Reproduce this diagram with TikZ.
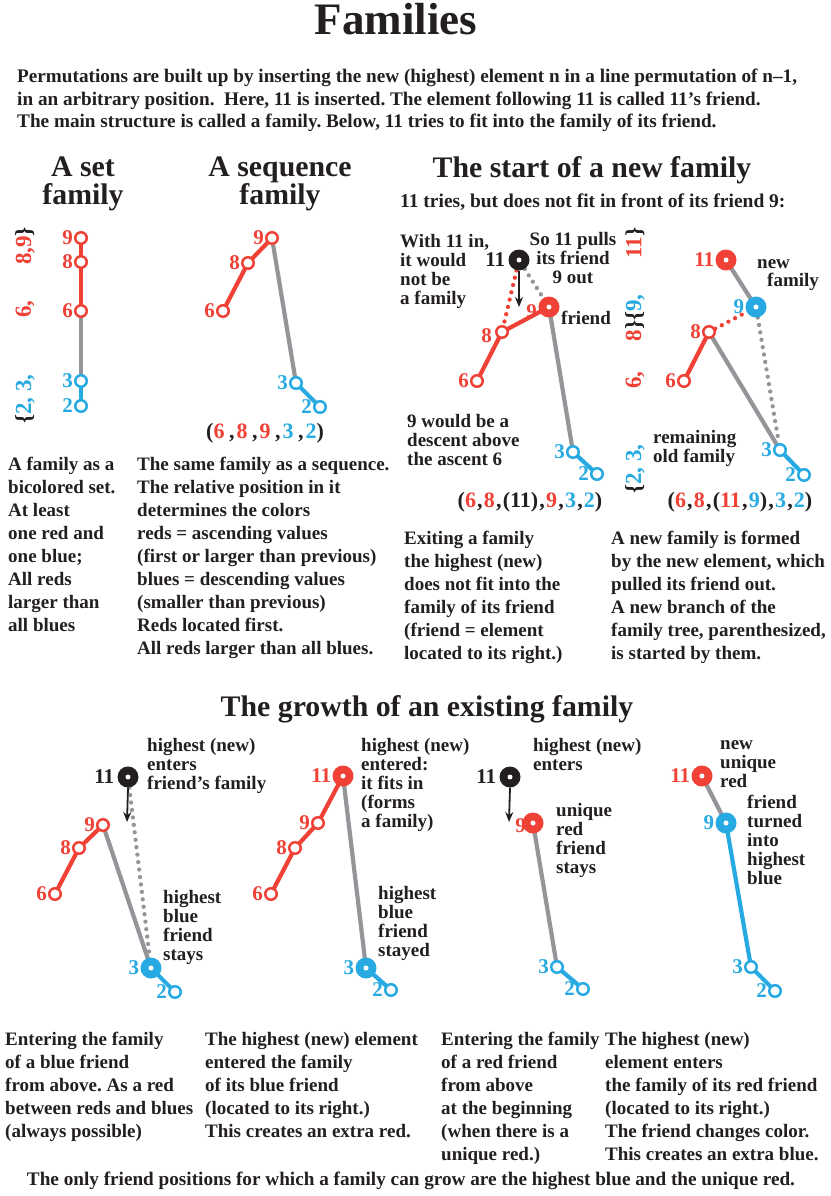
\documentclass[tikz,border=0pt]{standalone}
\usepackage{fontspec}
\setmainfont{Liberation Serif}
\usetikzlibrary{arrows.meta,backgrounds}
\definecolor{myred}{RGB}{239,65,54}
\definecolor{myblue}{RGB}{39,170,225}
\definecolor{mygray}{RGB}{147,149,152}
\definecolor{myblack}{RGB}{35,31,32}
\newcommand{\Rd}[1]{\textcolor{myred}{#1}}
\newcommand{\Bl}[1]{\textcolor{myblue}{#1}}
\newcommand{\ka}{\kern4.5pt}
\newcommand{\kb}{\kern2pt}
\newcommand{\kc}{\kern1.2pt}
\frenchspacing
\begin{document}
\begin{tikzpicture}[x=1pt,y=-1pt,
  every node/.style={text=myblack},
  ttl/.style={font=\bfseries\fontsize{45}{45}\selectfont, inner sep=0pt, anchor=base},
  hdg/.style={font=\bfseries\fontsize{29.8}{28}\selectfont, inner sep=0pt, align=center, anchor=base},
  para/.style={font=\bfseries\fontsize{19.2}{22.5}\selectfont, inner sep=0pt, anchor=base west, align=left},
  captxt/.style={font=\bfseries\fontsize{19}{23}\selectfont, inner sep=0pt, anchor=base west, align=left},
  ann/.style={font=\bfseries\fontsize{19}{19}\selectfont, inner sep=0pt, anchor=base west, align=left},
  seqtxt/.style={font=\bfseries\fontsize{22}{22}\selectfont, inner sep=0pt, anchor=base},
  num/.style={font=\bfseries\fontsize{21}{21}\selectfont, inner sep=0pt},
  rot/.style={font=\bfseries\fontsize{23}{23}\selectfont, inner sep=0pt, rotate=90},
  opn/.style={circle, draw=#1, line width=2.5pt, fill=white, minimum size=11.5pt, inner sep=0pt},
  fil/.style={circle, fill=#1, minimum size=21pt, inner sep=0pt},
  rl/.style={draw=myred, line width=4.2pt},
  gl/.style={draw=mygray, line width=4.2pt},
  bl/.style={draw=myblue, line width=4.2pt},
  dotl/.style={draw=#1, line width=4.3pt, line cap=round, dash pattern=on 0pt off 7.5pt},
  arr/.style={draw=myblack, line width=1.8pt, -{Stealth[length=10pt,width=8pt]}},
  rlab/.style={label={[num,text=myred,label distance=1pt]left:#1}},
  blab/.style={label={[num,text=myblue,label distance=1pt]left:#1}},
  klab/.style={label={[num,text=myblack,label distance=3pt]left:#1}},
]
\useasboundingbox (0,0) rectangle (830,1196);
\begin{scope}[on background layer]
\fill[white] (0,0) rectangle (830,1196);
\end{scope}

% ---------- title and intro
\node[ttl] (title) at (396,35) {Families};
\node[para] (p1) at (17,83) {Permutations are built up by inserting the new (highest) element n in a line permutation of n–1,};
\node[para] (p2) at (17,106) {in an arbitrary position.\ \ Here, 11 is inserted. The element following 11 is called 11’s friend.};
\node[para] (p3) at (17,128) {The main structure is called a family. Below, 11 tries to fit into the family of its friend.};

% ---------- headings
\node[hdg] (h1) at (83,204) {A set\\family};
\node[hdg] (h2) at (280,204) {A sequence\\family};
\node[hdg] (h3) at (592,177) {The start of a new family};
\node[font=\bfseries\fontsize{19.5}{19.5}\selectfont, inner sep=0pt, anchor=base west] (h3b) at (400,207) {11 tries, but does not fit in front of its friend 9:};

% ---------- set family
\node[opn=myred, rlab=9] (s9) at (81,238) {};
\node[opn=myred, rlab=8] (s8) at (81,262) {};
\node[opn=myred, rlab=6] (s6) at (81,311) {};
\node[opn=myblue, blab=3] (s3) at (81,381) {};
\node[opn=myblue, blab=2] (s2) at (81,406) {};
\begin{scope}[on background layer]
\draw[rl] (s9.center) -- (s6.center);
\draw[gl] (s6.center) -- (s3.center);
\draw[bl] (s3.center) -- (s2.center);
\end{scope}
\node[rot] (r1a) at (25,399) {\{\Bl{2, 3,}};
\node[rot, text=myred] (r1b) at (25,309) {6,};
\node[rot] (r1c) at (25,246) {\Rd{8,9}\}};

% ---------- sequence family
\node[opn=myred, rlab=6] (q6) at (223,311) {};
\node[opn=myred, rlab=8] (q8) at (248,263) {};
\node[opn=myred, rlab=9] (q9) at (272,238) {};
\node[opn=myblue, blab=3] (q3) at (296,383) {};
\node[opn=myblue, blab=2] (q2) at (320,407) {};
\begin{scope}[on background layer]
\draw[rl] (q6.center) -- (q8.center) -- (q9.center);
\draw[gl] (q9.center) -- (q3.center);
\draw[bl] (q3.center) -- (q2.center);
\end{scope}
\node[seqtxt] (seq1) at (265,438) {(\Rd{6}\ka,\kb\Rd{8}\ka,\kb\Rd{9}\ka,\kb\Bl{3}\ka,\kb\Bl{2})};

% ---------- captions row 1
\node[captxt] (c1) at (8,631) {A family as a\\bicolored set.\\At least\\one red and\\one blue;\\All reds\\larger than\\all blues};
\node[captxt] (c2) at (137,654) {The same family as a sequence.\\The relative position in it\\determines the colors\\reds = ascending values\\(first or larger than previous)\\blues = descending values\\(smaller than previous)\\Reds located first.\\All reds larger than all blues.};

% ---------- start of a new family, left
\node[fil=myblack, klab=11] (a11) at (519,260) {};
\node[fil=myred] (a9) at (549,307) {};
\node[num, text=myred, anchor=base east] (a9l) at (537,318) {9};
\node[opn=myred] (a8) at (502,332) {};
\node[num, text=myred, anchor=base east] (a8l) at (492,342) {8};
\node[opn=myred, rlab=6] (a6) at (477,381) {};
\node[opn=myblue, blab=3] (a3) at (573,452) {};
\node[opn=myblue, blab=2] (a2) at (597,474) {};
\fill[white] (a11.center) circle (2.5pt);
\fill[white] (a9.center) circle (2.5pt);
\coordinate (a11t) at (519,307);
\begin{scope}[on background layer]
\draw[rl] (a6.center) -- (a8.center) -- (a9.center);
\draw[gl] (a9.center) -- (a3.center);
\draw[bl] (a3.center) -- (a2.center);
\draw[dotl=myred] (a11) -- (a8);
\draw[dotl=mygray] (a11) -- (a9);
\end{scope}
\draw[arr] (a11.south) -- (a11t);
\node[ann] (t1) at (400,304) {With 11 in,\\it would\\not be\\a family};
\node[ann, align=center, anchor=base] (t2) at (573,283) {So 11 pulls\\its friend\\9 out};
\node[ann] (t3) at (561,324) {friend};
\node[ann] (t4) at (407,465) {9 would be a\\descent above\\the ascent 6};
\node[seqtxt] (seq2) at (530,507) {(\Rd{6}\kc,\kc\Rd{8}\kc,\kc(11)\kc,\kc\Rd{9}\kc,\kc\Bl{3}\kc,\kc\Bl{2})};

% ---------- start of a new family, right
\node[fil=myred, rlab=11] (b11) at (726,260) {};
\node[fil=myblue, blab=9] (b9) at (756,307) {};
\node[opn=myred, rlab=8] (b8) at (709,332) {};
\node[opn=myred, rlab=6] (b6) at (684,381) {};
\node[opn=myblue, blab=3] (b3) at (780,450) {};
\node[opn=myblue, blab=2] (b2) at (804,475) {};
\fill[white] (b11.center) circle (2.5pt);
\fill[white] (b9.center) circle (2.5pt);
\begin{scope}[on background layer]
\draw[gl] (b11.center) -- (b9.center);
\draw[rl] (b6.center) -- (b8.center);
\draw[gl] (b8.center) -- (b3.center);
\draw[bl] (b3.center) -- (b2.center);
\draw[dotl=myred] (b8) -- (b9);
\draw[dotl=mygray] (b9) -- (b3);
\end{scope}
\node[rot] (r2a) at (635,469) {\{\Bl{2, 3,}};
\node[rot, text=myred] (r2b) at (635,380) {6,};
\node[rot] (r2c) at (635,318) {\Rd{8}\}\{\Bl{9,}};
\node[rot] (r2d) at (635,243) {\Rd{11}\}};
\node[ann] (t5) at (757,268) {new};
\node[ann] (t6) at (767,286) {family};
\node[ann] (t7) at (653,462) {remaining\\old family};
\node[seqtxt] (seq3) at (740,507) {(\Rd{6}\kc,\kc\Rd{8}\kc,\kc(\Rd{11}\kc,\kc\Bl{9})\kc,\kc\Bl{3}\kc,\kc\Bl{2})};

\node[captxt] (c3) at (404,659) {Exiting a family\\the highest (new)\\does not fit into the\\family of its friend\\(friend = element\\located to its right.)};
\node[captxt] (c4) at (611,659) {A new family is formed\\by the new element, which\\pulled its friend out.\\A new branch of the\\family tree, parenthesized,\\is started by them.};

% ---------- growth heading
\node[hdg] (h4) at (427,716) {The growth of an existing family};

% ---------- D1
\node[fil=myblack, klab=11] (d11) at (128,777) {};
\node[opn=myred, rlab=9] (d9) at (103,825) {};
\node[opn=myred, rlab=8] (d8) at (79,848) {};
\node[opn=myred, rlab=6] (d6) at (55,894) {};
\node[fil=myblue, blab=3] (d3) at (151,968) {};
\node[opn=myblue, blab=2] (d2) at (175,992) {};
\fill[white] (d11.center) circle (2.5pt);
\fill[white] (d3.center) circle (2.5pt);
\coordinate (d11t) at (127,822);
\begin{scope}[on background layer]
\draw[rl] (d6.center) -- (d8.center) -- (d9.center);
\draw[gl] (d9.center) -- (d3.center);
\draw[bl] (d3.center) -- (d2.center);
\draw[dotl=mygray] (d11) -- (d3);
\end{scope}
\draw[arr] (d11.south) -- (d11t);
\node[ann] (e1) at (147,789) {highest (new)\\enters\\friend’s family};
\node[ann] (e2) at (163,960) {highest\\blue\\friend\\stays};

% ---------- D2
\node[fil=myred, rlab=11] (f11) at (343,776) {};
\node[opn=myred, rlab=9] (f9) at (318,823) {};
\node[opn=myred, rlab=8] (f8) at (295,848) {};
\node[opn=myred, rlab=6] (f6) at (271,894) {};
\node[fil=myblue, blab=3] (f3) at (366,968) {};
\node[opn=myblue, blab=2] (f2) at (391,990) {};
\fill[white] (f11.center) circle (2.5pt);
\fill[white] (f3.center) circle (2.5pt);
\begin{scope}[on background layer]
\draw[rl] (f6.center) -- (f8.center) -- (f9.center) -- (f11.center);
\draw[gl] (f11.center) -- (f3.center);
\draw[bl] (f3.center) -- (f2.center);
\end{scope}
\node[ann] (e3) at (361,827) {highest (new)\\entered:\\it fits in\\(forms\\a family)};
\node[ann] (e4) at (378,956) {highest\\blue\\friend\\stayed};

% ---------- D3
\node[fil=myblack, klab=11] (g11) at (510,777) {};
\node[fil=myred] (g9) at (533,823) {};
\node[num, text=myred, anchor=east] (g9l) at (526,826) {9};
\node[opn=myblue, blab=3] (g3) at (557,967) {};
\node[opn=myblue, blab=2] (g2) at (583,989) {};
\fill[white] (g11.center) circle (2.5pt);
\fill[white] (g9.center) circle (2.5pt);
\coordinate (g11t) at (509,822);
\begin{scope}[on background layer]
\draw[gl] (g9.center) -- (g3.center);
\draw[bl] (g3.center) -- (g2.center);
\end{scope}
\draw[arr] (g11.south) -- (g11t);
\node[ann] (e5) at (533,770) {highest (new)\\enters};
\node[ann] (e6) at (556,873) {unique\\red\\friend\\stays};

% ---------- D4
\node[fil=myred, rlab=11] (k11) at (702,776) {};
\node[fil=myblue, blab=9] (k9) at (726,823) {};
\node[opn=myblue, blab=3] (k3) at (751,967) {};
\node[opn=myblue, blab=2] (k2) at (775,991) {};
\fill[white] (k11.center) circle (2.5pt);
\fill[white] (k9.center) circle (2.5pt);
\begin{scope}[on background layer]
\draw[gl] (k11.center) -- (k9.center);
\draw[bl] (k9.center) -- (k3.center) -- (k2.center);
\end{scope}
\node[ann] (e7) at (720,787) {new\\unique\\red};
\node[ann] (e8) at (747,884) {friend\\turned\\into\\highest\\blue};

% ---------- bottom captions
\node[captxt] (m1) at (5,1137) {Entering the family\\of a blue friend\\from above. As a red\\between reds and blues\\(always possible)};
\node[captxt] (m2) at (205,1137) {The highest (new) element\\entered the family\\of its blue friend\\(located to its right.)\\This creates an extra red.};
\node[captxt] (m3) at (441,1160) {Entering the family\\of a red friend\\from above\\at the beginning\\(when there is a\\unique red.)};
\node[captxt] (m4) at (605,1160) {The highest (new)\\element enters\\the family of its red friend\\(located to its right.)\\The friend changes color.\\This creates an extra blue.};
\node[para, anchor=base] (m5) at (411,1185) {The only friend positions for which a family can grow are the highest blue and the unique red.};
\end{tikzpicture}
\end{document}
